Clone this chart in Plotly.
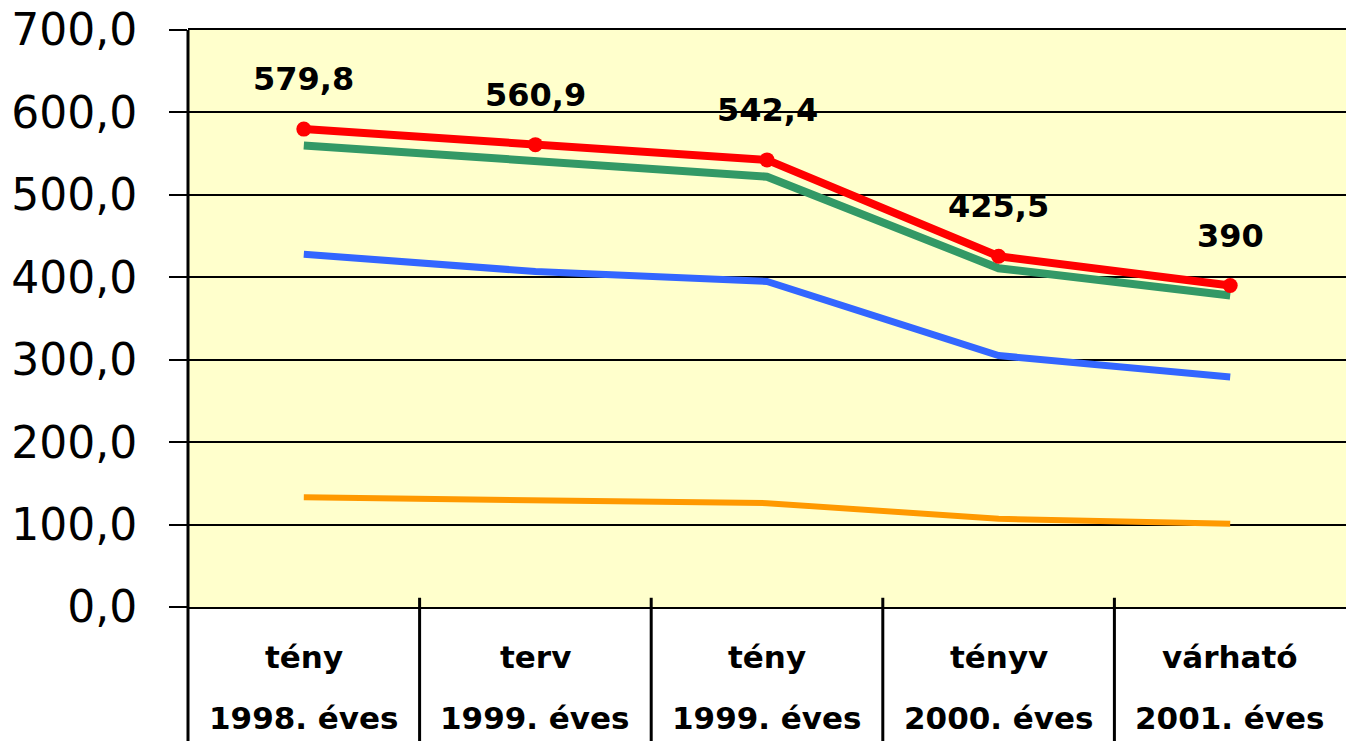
import plotly.graph_objects as go

cat_top = ["tény", "terv", "tény", "tényv", "várható"]
cat_bottom = ["1998. éves", "1999. éves", "1999. éves", "2000. éves", "2001. éves"]

red_values = [579.8, 560.9, 542.4, 425.5, 390.0]
red_labels = ["579,8", "560,9", "542,4", "425,5", "390"]
green_values = [560, 541, 522, 411, 378]
blue_values = [428, 407, 395, 305, 279]
orange_values = [133, 130, 126, 107, 101]

tick_vals = [0, 100, 200, 300, 400, 500, 600, 700]
tick_text = ["0,0", "100,0", "200,0", "300,0", "400,0", "500,0", "600,0", "700,0"]

FONT = "DejaVu Sans, Liberation Sans, Arial"
xs = list(range(len(cat_top)))

fig = go.Figure()
fig.add_trace(go.Scatter(x=xs, y=orange_values, mode="lines",
                         line=dict(color="#FF9900", width=6), hoverinfo="skip"))
fig.add_trace(go.Scatter(x=xs, y=blue_values, mode="lines",
                         line=dict(color="#3366FF", width=7), hoverinfo="skip"))
fig.add_trace(go.Scatter(x=xs, y=green_values, mode="lines",
                         line=dict(color="#339966", width=8), hoverinfo="skip"))
fig.add_trace(go.Scatter(x=xs, y=red_values, mode="lines+markers",
                         line=dict(color="#FF0000", width=8),
                         marker=dict(color="#FF0000", size=15), hoverinfo="skip"))

annotations = []
for i, (v, t) in enumerate(zip(red_values, red_labels)):
    annotations.append(dict(x=i, y=v, xref="x", yref="y", text="<b>" + t + "</b>",
                            showarrow=False, yshift=50, yanchor="middle",
                            font=dict(family=FONT, size=32, color="black")))
for i in xs:
    annotations.append(dict(x=i, y=0, xref="x", yref="y", text="<b>" + cat_top[i] + "</b>",
                            showarrow=False, yshift=-50, yanchor="middle",
                            font=dict(family=FONT, size=31, color="black")))
    annotations.append(dict(x=i, y=0, xref="x", yref="y", text="<b>" + cat_bottom[i] + "</b>",
                            showarrow=False, yshift=-111, yanchor="middle",
                            font=dict(family=FONT, size=31, color="black")))

shapes = []
# category separators
for i in range(1, len(cat_top)):
    shapes.append(dict(type="line", xref="x", yref="paper", x0=i - 0.5, x1=i - 0.5,
                       y0=-0.24, y1=0.016, line=dict(color="black", width=3)))
# left boundary extended down
shapes.append(dict(type="line", xref="paper", yref="paper", x0=0, x1=0,
                   y0=-0.24, y1=1, line=dict(color="black", width=3)))

fig.update_layout(
    width=1346, height=741,
    margin=dict(l=188, r=0, t=30, b=134),
    paper_bgcolor="white",
    plot_bgcolor="#FFFFCC",
    showlegend=False,
    annotations=annotations,
    shapes=shapes,
    xaxis=dict(range=[-0.5, 4.5], showticklabels=False, showgrid=False,
               zeroline=False, showline=True, mirror=True, linecolor="black",
               linewidth=2, ticks="", fixedrange=True, automargin=False),
    yaxis=dict(range=[0, 700], tickvals=tick_vals, ticktext=tick_text,
               showgrid=True, gridcolor="black", gridwidth=2,
               zeroline=True, zerolinecolor="black", zerolinewidth=3,
               showline=False, ticks="outside", ticklen=18, tickwidth=2,
               tickcolor="black", ticklabelstandoff=23, automargin=False,
               ticklabeloverflow="allow", fixedrange=True,
               tickfont=dict(family=FONT, size=44, color="black")),
)

fig.write_html("out.html",
               config={"displayModeBar": False},
               post_script="document.body.style.margin='0';document.body.style.overflow='hidden';")
